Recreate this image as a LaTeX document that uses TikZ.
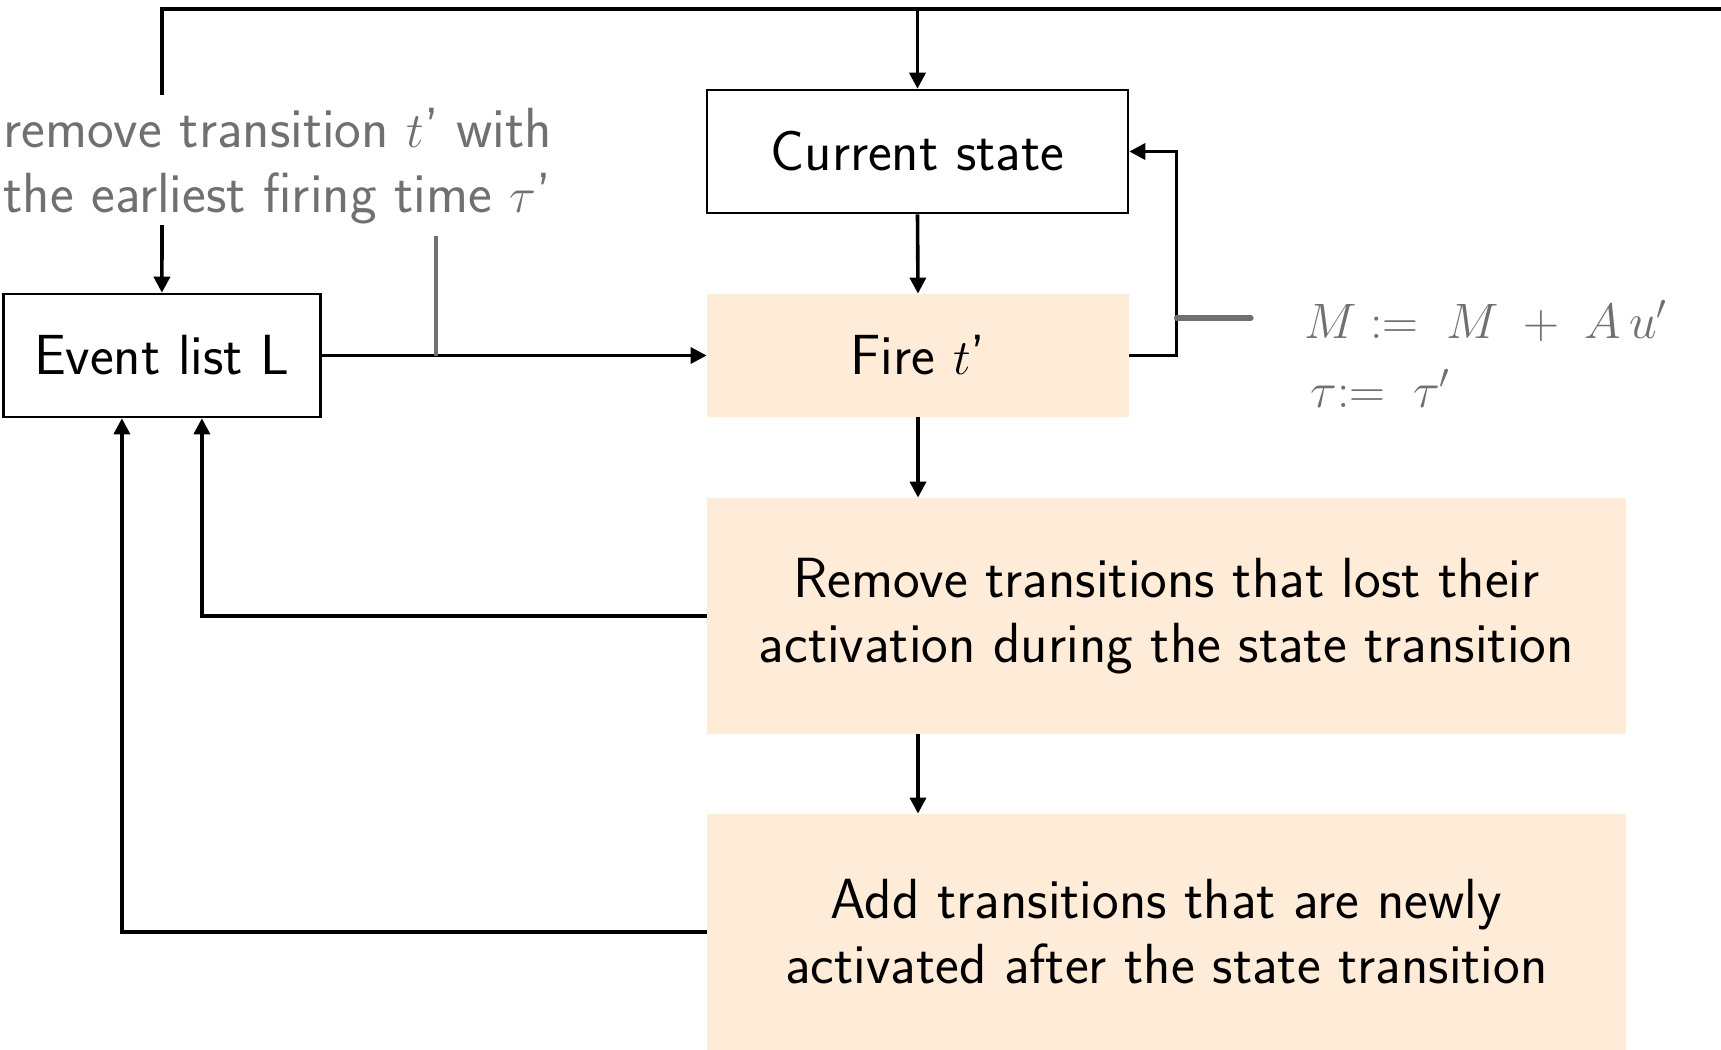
\documentclass[tikz,border=0pt]{standalone}
\usetikzlibrary{arrows.meta,calc}
\definecolor{peach}{RGB}{254,235,216}
\definecolor{gtxt}{RGB}{112,112,112}
\begin{document}
\begin{tikzpicture}[x=0.5pt,y=-0.5pt,
  every node/.style={font=\sffamily\fontsize{28.3}{32.5}\selectfont, inner sep=0pt},
  wbox/.style={draw, line width=1.3pt, fill=white, minimum height=61.5pt},
  pbox/.style={fill=peach, align=center},
  conn/.style={line width=1.8pt, -{Triangle[length=8pt,width=8pt]}},
  plainline/.style={line width=1.8pt},
  glabel/.style={text=gtxt, align=left},
  mathlbl/.style={text=gtxt, font=\fontsize{26}{32}\selectfont},
  gline/.style={draw=gtxt, line width=2.2pt}]
\useasboundingbox (0,0) rectangle (1721,1050);
% boxes
\node[wbox, minimum width=158.5pt] (el) at (161.9,355.5) {Event list L};
\node[wbox, minimum width=210.5pt] (cs) at (917.5,151.5) {Current state};
\node[pbox, minimum width=211pt, minimum height=61.5pt] (fire) at (918,355.5) {Fire $t$'};
\node[pbox, minimum width=459.3pt, minimum height=118pt] (rem) at (1166.3,616) {Remove transitions that lost their\\activation during the state transition};
\node[pbox, minimum width=459.3pt, minimum height=118pt] (add) at (1166.3,932) {Add transitions that are newly\\activated after the state transition};
% labels
\node[glabel, anchor=north west] (lbl) at (3,108) {remove transition $t$' with\\the earliest firing time $\tau$'};
\node[mathlbl, anchor=base west] (m1) at (1304,338) {$M \mathrel{:=}\; M \;+\; A\,u'$};
\node[mathlbl, anchor=base west] (m2) at (1310,407) {$\tau{:=}\;\; \tau'$};
% coordinates
\coordinate (tr) at (1721,8.8);
\coordinate (tl) at (162,8.8);
\coordinate (lt) at (162,93);
\coordinate (lb) at (162,225);
\coordinate (tk) at (435.7,236);
\coordinate (fb) at (1176.6,318);
\coordinate (fbe) at (1251,318);
% connectors
\draw[plainline, line cap=rect] (tr) -- (tl) -- (lt);
\draw[conn] (lb) -- (el.north);
\draw[conn] (cs.north |- tl) -- (cs.north);
\draw[conn] (el.east) -- (fire.west);
\draw[gline] (tk) -- (tk |- el.east);
\draw[conn] (cs.south) -- (fire.north);
\draw[conn] (fire.east) -- (fb |- fire.east) |- (cs.east);
\draw[gline, line width=2.6pt, line cap=round] (fb) -- (fbe);
\draw[conn] (fire.south) -- (fire.south |- rem.north);
\draw[conn] (fire.south |- rem.south) -- (fire.south |- add.north);
\draw[conn] (rem.west) -| ([xshift=20pt]el.south);
\draw[conn] (add.west) -| ([xshift=-20pt]el.south);
\end{tikzpicture}
\end{document}
